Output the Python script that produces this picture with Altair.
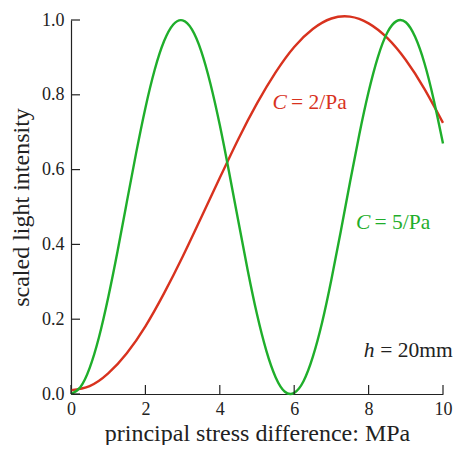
import altair as alt
import pandas as pd

# ---- data ----
red_x = [0, 0.5, 1, 1.5, 2, 2.5, 3, 3.5, 4, 4.5, 5, 5.5, 6, 6.5, 7, 7.5, 8, 8.5, 9, 9.5, 10]
red_y = [0.010, 0.021, 0.055, 0.109, 0.181, 0.269, 0.367, 0.472, 0.578, 0.682, 0.777,
         0.860, 0.928, 0.976, 1.004, 1.009, 0.991, 0.952, 0.893, 0.816, 0.725]

green_x = [0, 0.25, 0.5, 0.75, 1, 1.25, 1.5, 1.75, 2, 2.25, 2.5, 2.75, 3, 3.25, 3.5, 3.75,
           4, 4.25, 4.5, 4.75, 5, 5.25, 5.5, 5.75, 6, 6.25, 6.5, 6.75, 7, 7.25, 7.5, 7.75,
           8, 8.25, 8.5, 8.75, 9, 9.25, 9.5, 9.75, 10]
green_y = [0.000, 0.018, 0.069, 0.151, 0.258, 0.381, 0.513, 0.644, 0.765, 0.867, 0.943,
           0.988, 0.999, 0.975, 0.917, 0.829, 0.719, 0.593, 0.461, 0.331, 0.213, 0.116,
           0.045, 0.006, 0.003, 0.034, 0.099, 0.191, 0.306, 0.434, 0.566, 0.694, 0.808,
           0.901, 0.966, 0.997, 0.994, 0.955, 0.885, 0.787, 0.670]

series_names = ["C = 2/Pa", "C = 5/Pa"]
series_colors = ["#d8321e", "#1fae2b"]

x_ticks = [0, 2, 4, 6, 8, 10]
y_ticks = [0.0, 0.2, 0.4, 0.6, 0.8, 1.0]

x_title = "principal stress difference: MPa"
y_title = "scaled light intensity"

# annotation texts (italic symbol + remainder)
ann_sym = ["C", "C", "h"]
ann_rest = ["= 2/Pa", "= 5/Pa", "= 20mm"]
ann_x = [5.42, 7.66, 7.87]
ann_y = [0.762, 0.441, 0.100]
ann_color = ["#d8321e", "#1fae2b", "#222222"]
ann_dx = [18.5, 18.5, 16.5]

FONT = "Liberation Serif"
INK = "#222222"

W, H = 372, 374

df = pd.concat([
    pd.DataFrame({"x": red_x, "y": red_y, "series": series_names[0]}),
    pd.DataFrame({"x": green_x, "y": green_y, "series": series_names[1]}),
])
ann = pd.DataFrame({"x": ann_x, "y": ann_y, "sym": ann_sym, "rest": ann_rest})

xs = alt.Scale(domain=[0, 10], nice=False, zero=False)
ys = alt.Scale(domain=[0, 1], nice=False, zero=False)

xaxis = alt.Axis(values=x_ticks, format="d", ticks=False, grid=False,
                 domainColor=INK, domainWidth=1.2, labelFont=FONT, labelFontSize=18,
                 labelColor=INK, labelPadding=6, labelFlush=False,
                 title=x_title, titleFont=FONT, titleFontSize=24,
                 titleFontWeight="normal", titleColor=INK,
                 titleBaseline="alphabetic", titleY=46)
yaxis = alt.Axis(values=y_ticks, format=".1f", ticks=False, grid=False,
                 domainColor=INK, domainWidth=1.2, labelFont=FONT, labelFontSize=18,
                 labelColor=INK, labelPadding=7, labelFlush=False,
                 title=y_title, titleFont=FONT, titleFontSize=24,
                 titleFontWeight="normal", titleColor=INK, titlePadding=8)

X = alt.X("x:Q", scale=xs, axis=xaxis)
Y = alt.Y("y:Q", scale=ys, axis=yaxis)

lines = alt.Chart(df).mark_line(strokeWidth=2.4, interpolate="natural").encode(
    x=X, y=Y,
    color=alt.Color("series:N", scale=alt.Scale(domain=series_names, range=series_colors), legend=None),
)

xt = alt.Chart(pd.DataFrame({"x": x_ticks})).mark_rule(color=INK, strokeWidth=1.2).encode(
    x=X, y=alt.value(H), y2=alt.value(H - 9),
)
yt = alt.Chart(pd.DataFrame({"y": y_ticks})).mark_rule(color=INK, strokeWidth=1.2).encode(
    y=Y, x=alt.value(0), x2=alt.value(9),
)

layers = [lines, xt, yt]
for i in range(len(ann_sym)):
    row = ann.iloc[[i]]
    sym = alt.Chart(row).mark_text(align="left", baseline="alphabetic", font=FONT,
                                   fontSize=21.5, fontStyle="italic", color=ann_color[i]).encode(
        x=X, y=Y, text="sym:N")
    rest = alt.Chart(row).mark_text(align="left", baseline="alphabetic", font=FONT,
                                    fontSize=21.5, color=ann_color[i], dx=ann_dx[i]).encode(
        x=X, y=Y, text="rest:N")
    layers += [sym, rest]

chart = alt.layer(*layers).properties(
    width=W, height=H,
    padding={"left": 63, "top": 12, "right": 10, "bottom": 51},
    autosize=alt.AutoSizeParams(type="none"),
    background="white",
).configure_view(stroke=None)

chart.save("out.html", embed_options={"renderer": "svg", "actions": False})
